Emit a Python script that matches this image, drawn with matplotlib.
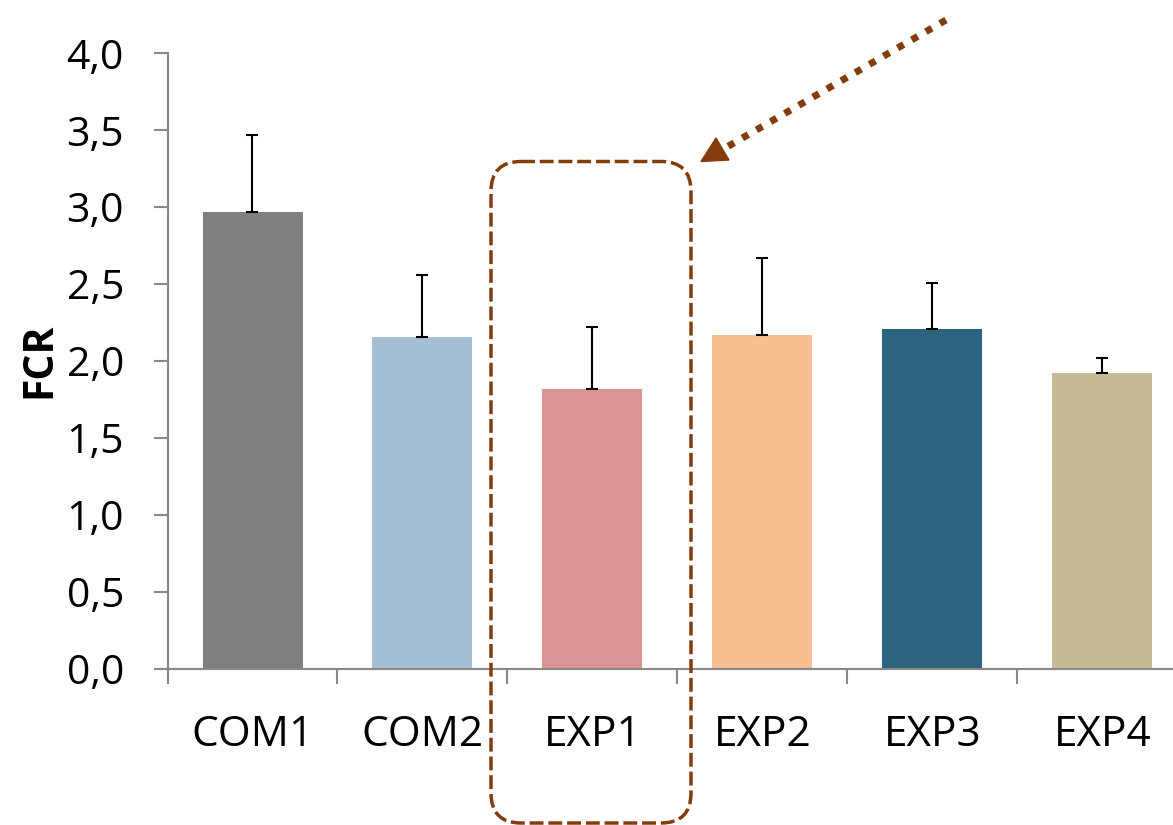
import matplotlib
matplotlib.use("Agg")
import matplotlib.pyplot as plt
from matplotlib.patches import FancyBboxPatch, Polygon
from matplotlib.ticker import FixedLocator, FuncFormatter

categories = ["COM1", "COM2", "EXP1", "EXP2", "EXP3", "EXP4"]
fcr_values = [2.97, 2.16, 1.82, 2.17, 2.21, 1.92]
fcr_errors = [0.50, 0.40, 0.40, 0.50, 0.30, 0.10]
bar_colors = ["#7f7f7f", "#a5c0d5", "#da9594", "#f8c090", "#2c637e", "#c5bc97"]
y_ticks = [0.0, 0.5, 1.0, 1.5, 2.0, 2.5, 3.0, 3.5, 4.0]

W, H = 1173, 825
DPI = 100
plt.rcParams['font.family'] = ['Open Sans', 'DejaVu Sans']

fig = plt.figure(figsize=(W / DPI, H / DPI), dpi=DPI)
left_px, right_px = 167.5, 1187.5
bottom_px, top_px = 669.0, 53.3
ax = fig.add_axes([left_px / W, (H - bottom_px) / H,
                   (right_px - left_px) / W, (bottom_px - top_px) / H])

x = list(range(len(categories)))
ax.bar(x, fcr_values, width=100 / 170, color=bar_colors, zorder=2,
       yerr=[[0] * len(fcr_errors), fcr_errors],
       error_kw=dict(ecolor="black", elinewidth=1.5, capsize=4.5, capthick=1.5, zorder=3))

ax.set_xlim(-0.5, len(categories) - 0.5)
ax.set_ylim(0, 4.0)

spine_color = "#898989"
for s in ["top", "right"]:
    ax.spines[s].set_visible(False)
for s in ["left", "bottom"]:
    ax.spines[s].set_color(spine_color)
    ax.spines[s].set_linewidth(1.5)
    ax.spines[s].set_zorder(4)

ax.set_yticks(y_ticks)
ax.yaxis.set_major_formatter(FuncFormatter(lambda v, p: f"{v:.1f}".replace(".", ",")))
ax.tick_params(axis="y", direction="out", length=10.4, width=1.5, color=spine_color,
               labelsize=29.5, pad=21)

ax.set_xticks(x)
ax.set_xticklabels(categories)
ax.xaxis.set_minor_locator(FixedLocator([i - 0.5 for i in range(len(categories) + 1)]))
ax.tick_params(axis="x", which="major", length=0, labelsize=30.5, pad=32.5)
ax.tick_params(axis="x", which="minor", direction="out", length=11, width=1.5, color=spine_color)

fig.text(40 / W, 1 - 360 / H, "FCR", rotation=90, ha="center", va="center",
         fontsize=29.5, fontweight="bold")

# overlay for annotations in pixel coordinates
ov = fig.add_axes([0, 0, 1, 1], zorder=10)
ov.set_xlim(0, W)
ov.set_ylim(H, 0)
ov.axis("off")
ov.patch.set_alpha(0)

brown = "#843c0c"
box = FancyBboxPatch((491, 161.5), 200, 661.5,
                     boxstyle="round,pad=0,rounding_size=30",
                     fill=False, edgecolor=brown, linewidth=2.5,
                     linestyle=(0, (4, 1.4)))
ov.add_patch(box)

ov.plot([946, 720], [20, 151], color=brown, linewidth=5.0,
        linestyle=(0, (1.0, 1.35)), solid_capstyle="butt", dash_capstyle="butt")
ov.add_patch(Polygon([(701, 161.5), (716, 138), (729, 160)], closed=True,
                     facecolor=brown, edgecolor=brown, linewidth=1))

fig.savefig("out.png", dpi=DPI)
